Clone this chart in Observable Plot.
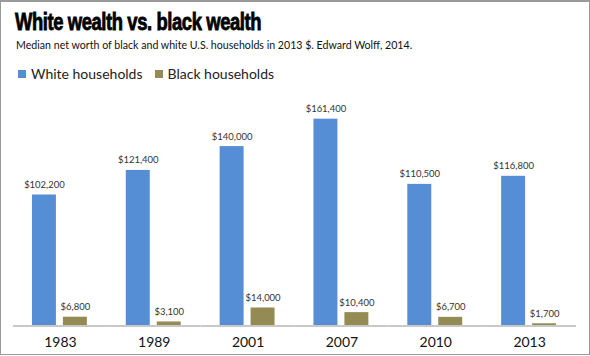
<!DOCTYPE html>
<html><head><meta charset="utf-8">
<script src="https://cdn.jsdelivr.net/npm/d3@7"></script>
<script src="https://cdn.jsdelivr.net/npm/@observablehq/plot@0.6"></script>
<style>
html,body{margin:0;padding:0;background:#fff;}
#wrap{position:relative;width:588px;height:352px;border:1px solid #9a9a9a;border-top-width:2px;border-right-width:2px;overflow:hidden;}
#chart{position:absolute;left:-1px;top:-2px;}
.title{position:absolute;left:14px;top:7px;font-family:"Liberation Sans Narrow","Liberation Sans",sans-serif;font-weight:bold;font-size:23px;letter-spacing:-0.5px;color:#000;white-space:nowrap;-webkit-text-stroke:0.8px #000;transform:scaleX(0.8);transform-origin:0 0;}
.sub{position:absolute;left:15px;top:35px;font-family:Lato,sans-serif;font-size:12px;color:#111;white-space:nowrap;transform:scaleX(0.885);transform-origin:0 0;}
.legend{position:absolute;left:17px;top:63px;font-family:Lato,sans-serif;font-size:14px;color:#222;white-space:nowrap;}
.legend span.sw{display:inline-block;width:8px;height:8px;margin-right:5px;vertical-align:1px;}
.legend span.item{margin-right:12px;}
</style></head>
<body>
<div id="wrap">
<div id="chart"></div>
<div class="title">White wealth vs. black wealth</div>
<div class="sub">Median net worth of black and white U.S. households in 2013 $. Edward Wolff, 2014.</div>
<div class="legend"><span class="item"><span class="sw" style="background:#558ed5"></span>White households</span><span class="item"><span class="sw" style="background:#948a54"></span>Black households</span></div>
</div>
<script>
const years = ["1983","1989","2001","2007","2010","2013"];
const whiteValues = [102200,121400,140000,161400,110500,116800];
const blackValues = [6800,3100,14000,10400,6700,1700];
const seriesNames = ["White households","Black households"];
const seriesColors = ["#558ed5","#948a54"];

const rows = [];
years.forEach((y,i)=>{
  rows.push({year:y, series:seriesNames[0], value:whiteValues[i]});
  rows.push({year:y, series:seriesNames[1], value:blackValues[i]});
});
const fmt = v => "$" + d3.format(",")(v);

const chart = Plot.plot({
  width:590, height:356,
  marginLeft:13, marginRight:13, marginTop:95, marginBottom:30,
  style:{fontFamily:"Lato, sans-serif", background:"transparent"},
  fx:{domain:years, padding:0, label:null, axis:"bottom", tickSize:0, tickPadding:11, fontSize:13},
  x:{domain:seriesNames, paddingInner:0.22, paddingOuter:0.58, axis:null},
  y:{domain:[0,180000], axis:null},
  color:{domain:seriesNames, range:seriesColors},
  marks:[
    Plot.barY(rows,{fx:"year", x:"series", y:"value", fill:"series"}),
    Plot.ruleY([0],{stroke:"#c8c8c8", strokeWidth:2}),
    Plot.text(rows,{fx:"year", x:"series", y:"value", text:d=>fmt(d.value), dy:-10, fontSize:9.5, fill:"#333"})
  ]
});
const g = chart.querySelector('[aria-label="fx-axis tick label"]');
if (g) { g.setAttribute("font-size","14"); g.setAttribute("fill","#111"); }
document.getElementById("chart").appendChild(chart);
</script>
</body></html>
